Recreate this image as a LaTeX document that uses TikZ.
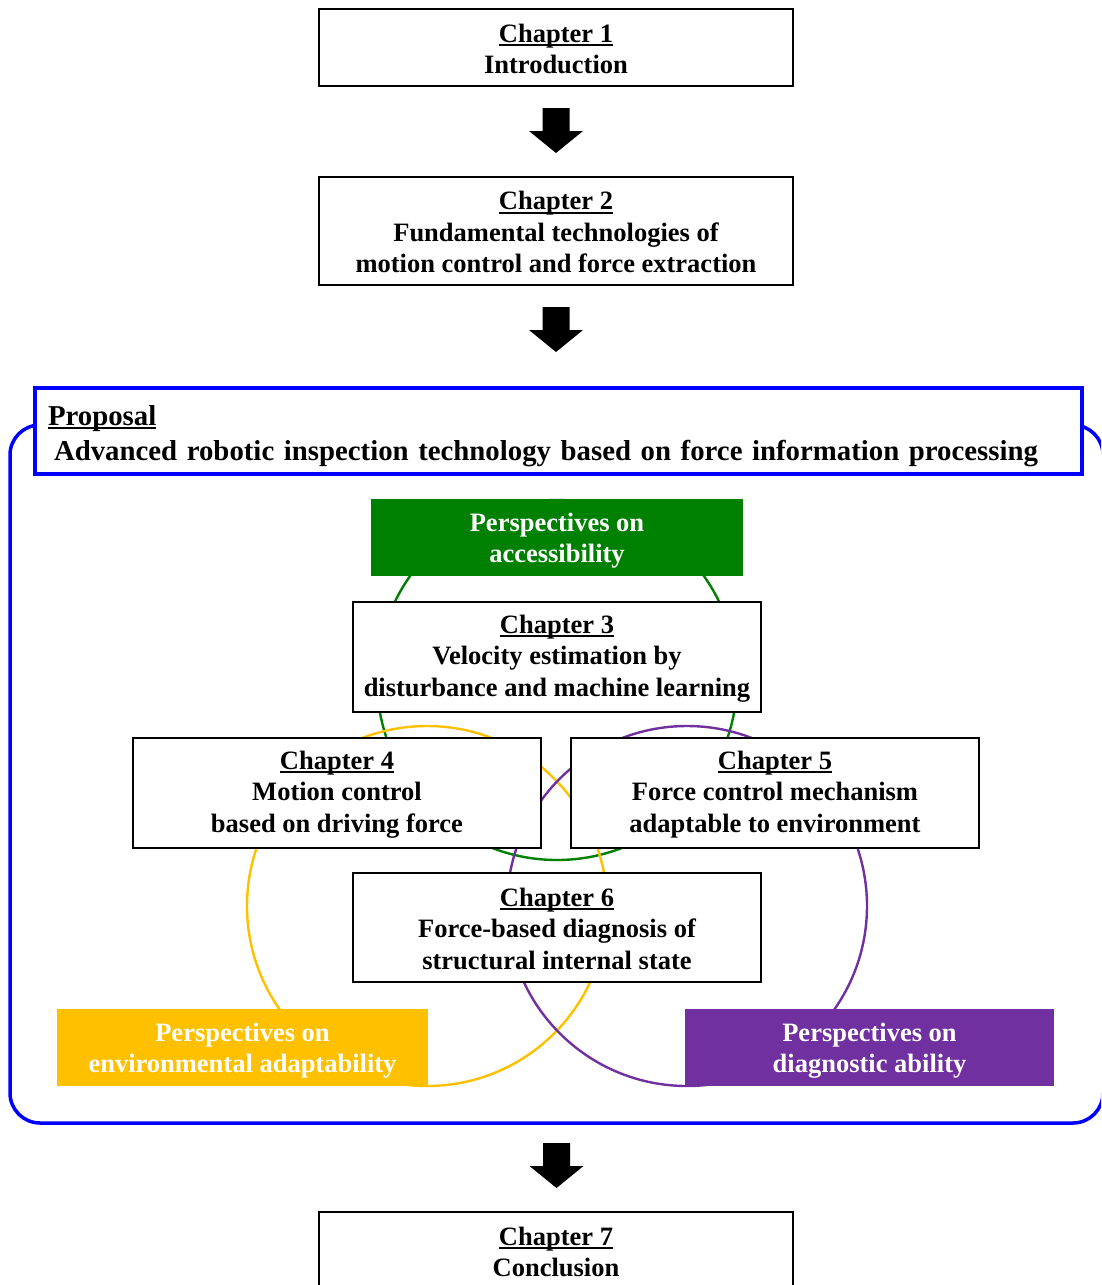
\documentclass[tikz,border=0pt]{standalone}
\usepackage{fontspec}
\setmainfont{Liberation Serif}
\usetikzlibrary{calc}
\definecolor{pgreen}{RGB}{0,128,0}
\definecolor{pyellow}{RGB}{255,192,0}
\definecolor{ppurple}{RGB}{112,48,160}
\definecolor{pblue}{RGB}{0,0,255}
\newcommand\blockarrow[3][22]{%
  \fill[black] ($(#2.south)+(-13.5,#1)$) -- ++(27,0) -- ++(0,23) -- ++(13.5,0)
    -- ++(-27,22) -- ++(-27,-22) -- ++(13.5,0) -- cycle;}
\newcommand\myul[1]{\setbox0\hbox{#1}\rlap{\rule[-4pt]{\wd0}{1.9pt}}\box0}
\newcommand\upstrut[1]{\rule{0pt}{#1}}
\begin{document}
\begin{tikzpicture}[x=1pt,y=-1pt,
  chapbox/.style={draw=black, line width=2.8pt, fill=white, inner sep=0pt, outer sep=0pt,
    align=center, font=\bfseries\fontsize{26.5}{31.5}\selectfont},
  perspbox/.style={fill=#1, draw=none, inner sep=0pt, outer sep=0pt, text=white,
    align=center, minimum height=77pt, font=\bfseries\fontsize{26.5}{31}\selectfont},
  ring/.style={circle, draw=#1, line width=2.4pt, minimum size=360pt, inner sep=0pt},
]
\useasboundingbox (0,0) rectangle (1101,1285);
\clip (0,0) rectangle (1101,1285);

% proposal frame
\node[draw=pblue, line width=3.5pt, rounded corners=30pt, minimum width=1093pt,
  minimum height=698pt, inner sep=0pt, outer sep=0pt] (frame) at (556.5,774) {};

\node[draw=pblue, line width=3.5pt, fill=white, inner xsep=13pt, inner ysep=0pt,
  text width=1021pt, minimum height=86pt, align=left,
  font=\bfseries\fontsize{28.8}{35}\selectfont] (prop) at (558.5,431)
  {\upstrut{30pt}\myul{Proposal}\\\hspace*{6pt}Advanced robotic inspection technology based on force information processing};

% rings
\node[ring=pgreen] (gring) at (557,680) {};
\node[ring=pyellow] (yring) at (427,906) {};
\node[ring=ppurple] (pring) at (687,906) {};

% perspective boxes
\node[perspbox=pgreen, minimum width=372pt] (pacc) at (557,537.5) {\upstrut{25pt}Perspectives on\\accessibility};
\node[perspbox=pyellow, minimum width=371pt] (penv) at (242.5,1047.5) {\upstrut{25pt}Perspectives on\\environmental adaptability};
\node[perspbox=ppurple, minimum width=369pt] (pdiag) at (869.5,1047.5) {\upstrut{25pt}Perspectives on\\diagnostic ability};

% chapters
\node[chapbox, minimum width=474pt, minimum height=77pt] (c1) at (556,47.5)
  {\upstrut{21pt}\myul{Chapter 1}\\Introduction};
\node[chapbox, minimum width=474pt, minimum height=108pt] (c2) at (556,231)
  {\upstrut{21pt}\myul{Chapter 2}\\Fundamental technologies of\\motion control and force extraction};
\node[chapbox, minimum width=408pt, minimum height=110pt] (c3) at (557,657)
  {\upstrut{21pt}\myul{Chapter 3}\\Velocity estimation by\\disturbance and machine learning};
\node[chapbox, minimum width=408pt, minimum height=110pt] (c4) at (337,793)
  {\upstrut{21pt}\myul{Chapter 4}\\Motion control\\based on driving force};
\node[chapbox, minimum width=408pt, minimum height=110pt] (c5) at (775,793)
  {\upstrut{21pt}\myul{Chapter 5}\\Force control mechanism\\adaptable to environment};
\node[chapbox, minimum width=408pt, minimum height=109pt] (c6) at (557,927.5)
  {\upstrut{21pt}\myul{Chapter 6}\\Force-based diagnosis of\\structural internal state};
\node[chapbox, minimum width=474pt, minimum height=77pt] (c7) at (556,1250.5)
  {\upstrut{21pt}\myul{Chapter 7}\\Conclusion};

% block arrows
\blockarrow{c1}{c2}
\blockarrow{c2}{prop}
\blockarrow[20]{frame}{c7}
\end{tikzpicture}
\end{document}
